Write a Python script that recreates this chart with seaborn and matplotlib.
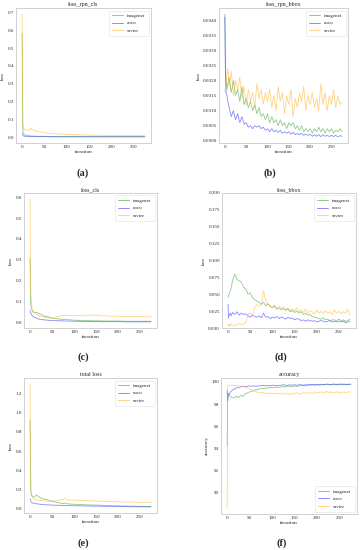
import matplotlib
matplotlib.use("Agg")
import matplotlib.pyplot as plt
import pandas as pd
import seaborn as sns
from matplotlib.ticker import MultipleLocator, FormatStrFormatter

# ---------------- data ----------------
MODELS = ["imagenet", "coco", "savier"]

ITER = [0, 1, 2, 3, 5, 7, 10, 15, 20, 25,
        30, 35, 40, 45, 50, 55, 60, 65, 70, 75,
        80, 85, 90, 95, 100, 105, 110, 115, 120, 125,
        130, 135, 140, 145, 150, 155, 160, 165, 170, 175,
        180, 185, 190, 195, 200, 205, 210, 215, 220, 225,
        230, 235, 240, 245, 250, 255, 260, 265, 270, 275]

# (a) loss_rpn_cls
a_imagenet = [0.58, 0.10, 0.03, 0.02, 0.015, 0.012, 0.010, 0.008, 0.007, 0.006,
              0.006, 0.005, 0.005, 0.005, 0.005, 0.005, 0.004, 0.004, 0.004, 0.004,
              0.004, 0.004, 0.004, 0.004, 0.004, 0.004, 0.004, 0.004, 0.004, 0.004,
              0.004, 0.003, 0.003, 0.003, 0.003, 0.003, 0.003, 0.003, 0.003, 0.003,
              0.003, 0.003, 0.003, 0.003, 0.003, 0.003, 0.003, 0.003, 0.003, 0.003,
              0.003, 0.003, 0.003, 0.003, 0.003, 0.003, 0.003, 0.003, 0.003, 0.003]
a_coco = [0.020, 0.015, 0.010, 0.008, 0.006, 0.005, 0.004, 0.004, 0.003, 0.003,
          0.003, 0.003, 0.003, 0.003, 0.003, 0.003, 0.003, 0.002, 0.002, 0.002,
          0.002, 0.002, 0.002, 0.002, 0.002, 0.002, 0.002, 0.002, 0.002, 0.002,
          0.002, 0.002, 0.002, 0.002, 0.002, 0.002, 0.002, 0.002, 0.002, 0.002,
          0.002, 0.002, 0.002, 0.002, 0.002, 0.002, 0.002, 0.002, 0.002, 0.002,
          0.002, 0.002, 0.002, 0.002, 0.002, 0.002, 0.002, 0.002, 0.002, 0.002]
a_savier = [0.69, 0.25, 0.06, 0.05, 0.045, 0.042, 0.040, 0.038, 0.050, 0.040,
            0.035, 0.032, 0.030, 0.028, 0.026, 0.024, 0.022, 0.021, 0.020, 0.019,
            0.018, 0.018, 0.017, 0.016, 0.016, 0.015, 0.015, 0.014, 0.014, 0.014,
            0.013, 0.013, 0.013, 0.012, 0.012, 0.012, 0.012, 0.011, 0.011, 0.011,
            0.011, 0.011, 0.010, 0.010, 0.010, 0.010, 0.010, 0.010, 0.010, 0.010,
            0.009, 0.010, 0.009, 0.009, 0.010, 0.009, 0.009, 0.009, 0.009, 0.009]

# (b) loss_rpn_bbox
b_imagenet = [0.0042, 0.0030, 0.0022, 0.0020, 0.0017, 0.0019, 0.0021, 0.0016, 0.0020, 0.0015,
              0.0017, 0.0013, 0.0018, 0.0012, 0.0014, 0.0011, 0.0013, 0.0010, 0.0012, 0.0009,
              0.0011, 0.0008, 0.0009, 0.0007, 0.0009, 0.0006, 0.0008, 0.0006, 0.0007, 0.0005,
              0.0007, 0.0005, 0.0006, 0.0004, 0.0006, 0.0005, 0.0006, 0.0004, 0.0005, 0.00035,
              0.0005, 0.0003, 0.0004, 0.0003, 0.0004, 0.00025, 0.0004, 0.0003, 0.00045, 0.0003,
              0.0004, 0.00025, 0.0004, 0.0003, 0.0004, 0.00025, 0.00035, 0.0003, 0.0004, 0.0003]
b_coco = [0.0041, 0.0025, 0.0018, 0.0016, 0.0015, 0.0013, 0.0011, 0.0008, 0.0010, 0.0007,
          0.0009, 0.0006, 0.0008, 0.00055, 0.0006, 0.00045, 0.0005, 0.0004, 0.0005, 0.00045,
          0.0005, 0.0004, 0.00045, 0.00035, 0.0004, 0.0003, 0.0004, 0.0003, 0.00035, 0.00028,
          0.00035, 0.00025, 0.0003, 0.00025, 0.0003, 0.00022, 0.00028, 0.0002, 0.00025, 0.0002,
          0.00025, 0.00018, 0.00022, 0.00018, 0.00022, 0.00015, 0.0002, 0.00015, 0.0002, 0.00014,
          0.0002, 0.00015, 0.00018, 0.00014, 0.00018, 0.00014, 0.00018, 0.00013, 0.00017, 0.00015]
b_savier = [0.0017, 0.0016, 0.0018, 0.0020, 0.0022, 0.0024, 0.0018, 0.0023, 0.0015, 0.0020,
            0.0017, 0.0021, 0.0014, 0.0018, 0.0012, 0.0017, 0.0013, 0.0016, 0.0011, 0.0019,
            0.0014, 0.0017, 0.0012, 0.0016, 0.0013, 0.0017, 0.0011, 0.0015, 0.0010, 0.0018,
            0.0013, 0.0016, 0.0009, 0.0015, 0.0012, 0.0017, 0.0008, 0.0014, 0.0011, 0.0016,
            0.0013, 0.0018, 0.0010, 0.0015, 0.0012, 0.0016, 0.0011, 0.0014, 0.0010, 0.0019,
            0.0012, 0.0016, 0.0010, 0.0015, 0.0012, 0.0017, 0.0011, 0.0015, 0.0012, 0.0013]

# (c) loss_cls
c_imagenet = [0.31, 0.12, 0.08, 0.07, 0.06, 0.055, 0.050, 0.050, 0.045, 0.040,
              0.035, 0.030, 0.030, 0.027, 0.024, 0.022, 0.020, 0.019, 0.018, 0.017,
              0.016, 0.015, 0.015, 0.014, 0.013, 0.013, 0.012, 0.012, 0.012, 0.011,
              0.011, 0.011, 0.010, 0.010, 0.010, 0.010, 0.010, 0.009, 0.009, 0.009,
              0.009, 0.009, 0.009, 0.009, 0.009, 0.009, 0.008, 0.008, 0.008, 0.008,
              0.008, 0.008, 0.008, 0.008, 0.008, 0.008, 0.008, 0.008, 0.008, 0.008]
c_coco = [0.060, 0.050, 0.045, 0.040, 0.035, 0.030, 0.028, 0.022, 0.018, 0.016,
          0.015, 0.014, 0.013, 0.012, 0.012, 0.011, 0.011, 0.010, 0.010, 0.010,
          0.009, 0.009, 0.009, 0.008, 0.008, 0.008, 0.008, 0.008, 0.007, 0.007,
          0.007, 0.007, 0.007, 0.007, 0.007, 0.006, 0.006, 0.006, 0.006, 0.006,
          0.006, 0.006, 0.006, 0.006, 0.006, 0.006, 0.006, 0.005, 0.005, 0.005,
          0.005, 0.005, 0.005, 0.005, 0.005, 0.005, 0.005, 0.005, 0.005, 0.005]
c_savier = [0.59, 0.20, 0.14, 0.10, 0.06, 0.05, 0.045, 0.040, 0.035, 0.030,
            0.030, 0.025, 0.025, 0.022, 0.020, 0.022, 0.030, 0.032, 0.035, 0.033,
            0.037, 0.034, 0.036, 0.033, 0.035, 0.034, 0.036, 0.033, 0.035, 0.037,
            0.034, 0.036, 0.038, 0.035, 0.040, 0.034, 0.036, 0.033, 0.035, 0.032,
            0.034, 0.031, 0.033, 0.030, 0.032, 0.031, 0.030, 0.032, 0.030, 0.031,
            0.029, 0.031, 0.030, 0.029, 0.031, 0.030, 0.029, 0.030, 0.029, 0.030]

# (d) loss_bbox
d_imagenet = [0.045, 0.048, 0.050, 0.052, 0.055, 0.060, 0.070, 0.080, 0.072, 0.070,
              0.068, 0.060, 0.058, 0.050, 0.052, 0.045, 0.042, 0.040, 0.038, 0.035,
              0.038, 0.033, 0.036, 0.032, 0.030, 0.033, 0.028, 0.030, 0.027, 0.029,
              0.026, 0.028, 0.024, 0.026, 0.023, 0.025, 0.022, 0.024, 0.020, 0.022,
              0.019, 0.020, 0.017, 0.016, 0.015, 0.014, 0.013, 0.015, 0.012, 0.013,
              0.011, 0.012, 0.012, 0.011, 0.013, 0.011, 0.012, 0.010, 0.011, 0.013]
d_coco = [0.035, 0.015, 0.018, 0.020, 0.022, 0.018, 0.023, 0.020, 0.024, 0.019,
          0.022, 0.020, 0.021, 0.018, 0.016, 0.019, 0.017, 0.016, 0.018, 0.015,
          0.022, 0.016, 0.017, 0.014, 0.016, 0.015, 0.017, 0.014, 0.016, 0.015,
          0.013, 0.016, 0.014, 0.015, 0.012, 0.014, 0.013, 0.011, 0.012, 0.010,
          0.012, 0.011, 0.010, 0.011, 0.009, 0.010, 0.011, 0.010, 0.009, 0.010,
          0.011, 0.009, 0.010, 0.009, 0.010, 0.009, 0.010, 0.008, 0.009, 0.010]
d_savier = [0.004, 0.006, 0.003, 0.005, 0.004, 0.006, 0.003, 0.005, 0.004, 0.007,
            0.005, 0.006, 0.008, 0.020, 0.022, 0.018, 0.030, 0.035, 0.032, 0.036,
            0.055, 0.040, 0.035, 0.032, 0.030, 0.034, 0.028, 0.032, 0.029, 0.031,
            0.027, 0.030, 0.026, 0.028, 0.025, 0.030, 0.024, 0.027, 0.023, 0.028,
            0.022, 0.026, 0.024, 0.020, 0.027, 0.022, 0.025, 0.021, 0.026, 0.022,
            0.024, 0.020, 0.027, 0.022, 0.025, 0.021, 0.024, 0.022, 0.028, 0.020]

# (e) total loss
e_imagenet = [0.92, 0.35, 0.16, 0.14, 0.13, 0.12, 0.12, 0.14, 0.12, 0.11,
              0.100, 0.095, 0.090, 0.080, 0.075, 0.070, 0.065, 0.060, 0.055, 0.050,
              0.055, 0.050, 0.045, 0.045, 0.043, 0.042, 0.040, 0.040, 0.039, 0.038,
              0.037, 0.036, 0.036, 0.035, 0.034, 0.034, 0.033, 0.032, 0.031, 0.030,
              0.030, 0.029, 0.028, 0.027, 0.026, 0.026, 0.025, 0.025, 0.024, 0.024,
              0.023, 0.023, 0.022, 0.022, 0.022, 0.021, 0.021, 0.020, 0.020, 0.020]
e_coco = [0.100, 0.090, 0.075, 0.065, 0.060, 0.055, 0.050, 0.048, 0.045, 0.042,
          0.040, 0.038, 0.037, 0.036, 0.035, 0.034, 0.033, 0.032, 0.032, 0.031,
          0.030, 0.030, 0.029, 0.029, 0.028, 0.028, 0.027, 0.027, 0.026, 0.026,
          0.025, 0.025, 0.025, 0.024, 0.024, 0.023, 0.023, 0.022, 0.022, 0.022,
          0.021, 0.021, 0.020, 0.020, 0.020, 0.020, 0.019, 0.019, 0.019, 0.018,
          0.018, 0.018, 0.018, 0.017, 0.017, 0.017, 0.017, 0.016, 0.016, 0.016]
e_savier = [1.30, 0.60, 0.20, 0.15, 0.12, 0.10, 0.095, 0.090, 0.085, 0.082,
            0.080, 0.078, 0.080, 0.075, 0.078, 0.073, 0.080, 0.085, 0.088, 0.090,
            0.105, 0.090, 0.088, 0.085, 0.087, 0.083, 0.085, 0.080, 0.083, 0.080,
            0.082, 0.078, 0.080, 0.077, 0.078, 0.075, 0.077, 0.074, 0.075, 0.072,
            0.074, 0.070, 0.072, 0.069, 0.070, 0.068, 0.070, 0.066, 0.068, 0.065,
            0.067, 0.064, 0.066, 0.063, 0.065, 0.062, 0.064, 0.061, 0.063, 0.062]

# (f) accuracy
f_imagenet = [94.2, 98.8, 99.0, 98.9, 98.8, 98.7, 98.6, 98.55, 98.7, 98.6,
              98.8, 98.7, 98.95, 99.0, 99.1, 99.15, 99.25, 99.3, 99.35, 99.4,
              99.4, 99.45, 99.45, 99.5, 99.5, 99.5, 99.55, 99.5, 99.55, 99.6,
              99.55, 99.6, 99.6, 99.6, 99.65, 99.6, 99.65, 99.65, 99.7, 99.65,
              99.7, 99.7, 99.75, 99.7, 99.75, 99.7, 99.75, 99.75, 99.8, 99.75,
              99.75, 99.8, 99.75, 99.8, 99.8, 99.75, 99.8, 99.8, 99.75, 99.8]
f_coco = [99.2, 98.3, 98.6, 98.8, 98.9, 99.1, 99.2, 99.35, 99.45, 99.5,
          99.55, 99.6, 99.6, 99.6, 99.65, 99.6, 99.65, 99.6, 99.65, 99.65,
          99.7, 99.65, 99.7, 99.65, 99.7, 99.7, 99.65, 99.7, 99.7, 99.75,
          99.7, 99.7, 99.75, 99.7, 99.75, 99.7, 99.75, 99.75, 99.7, 99.75,
          99.75, 99.8, 99.75, 99.75, 99.8, 99.75, 99.8, 99.75, 99.8, 99.8,
          99.75, 99.8, 99.8, 99.75, 99.8, 99.8, 99.8, 99.75, 99.8, 99.8]
f_savier = [88.6, 99.6, 99.7, 99.7, 99.7, 99.7, 99.7, 99.7, 99.65, 99.7,
            99.6, 99.65, 99.5, 99.45, 99.35, 99.3, 99.2, 99.1, 99.05, 99.0,
            99.05, 98.95, 99.0, 98.95, 99.0, 98.9, 99.0, 98.95, 98.9, 99.0,
            98.9, 98.95, 98.85, 99.0, 98.9, 99.05, 98.9, 98.95, 99.1, 98.95,
            99.0, 99.05, 98.95, 99.1, 99.0, 99.05, 99.1, 99.0, 99.15, 99.05,
            99.1, 99.0, 99.05, 99.1, 99.0, 99.05, 99.1, 99.05, 99.1, 99.1]

TITLES = ["loss_rpn_cls", "loss_rpn_bbox", "loss_cls", "loss_bbox", "total loss", "accuracy"]
CAPTIONS = ["(a)", "(b)", "(c)", "(d)", "(e)", "(f)"]
YLABELS = ["loss", "loss", "loss", "loss", "loss", "accuracy"]
SERIES = [
    (a_imagenet, a_coco, a_savier),
    (b_imagenet, b_coco, b_savier),
    (c_imagenet, c_coco, c_savier),
    (d_imagenet, d_coco, d_savier),
    (e_imagenet, e_coco, e_savier),
    (f_imagenet, f_coco, f_savier),
]

# ---------------- style / layout ----------------
PALETTE = {"imagenet": "#2ca02c", "coco": "#2a2aff", "savier": "#ffb020"}
W, H = 362, 550
# axes boxes in pixels: left, top, right, bottom
BOXES = [
    (16, 8, 151, 143), (219, 8, 348, 143),
    (24, 193, 157, 328), (222, 193, 356, 328),
    (24, 378, 157, 513), (221, 378, 357, 514),
]
CAP_POS = [(83, 173), (270, 173), (83, 357), (281, 357), (83, 543), (282, 543)]
YSTEP = [0.1, 0.0005, 0.1, 0.025, 0.2, 2]
YFMT = ["%.1f", "%.4f", "%.1f", "%.3f", "%.1f", "%d"]
LEG_LOC = ["upper right"] * 5 + ["lower right"]

sns.set_style("white", {"axes.edgecolor": "0.82"})
plt.rcParams["font.family"] = ["Liberation Serif", "DejaVu Serif"]

fig = plt.figure(figsize=(W / 100, H / 100), dpi=100)

for i in range(6):
    l, t, r, b = BOXES[i]
    ax = fig.add_axes([l / W, 1 - b / H, (r - l) / W, (b - t) / H])
    imgn, coco, sav = SERIES[i]
    df = pd.DataFrame({
        "iteration": ITER * 3,
        "value": list(imgn) + list(coco) + list(sav),
        "model": ["imagenet"] * len(imgn) + ["coco"] * len(coco) + ["savier"] * len(sav),
    })
    sns.lineplot(data=df, x="iteration", y="value", hue="model", hue_order=MODELS,
                 palette=PALETTE, estimator=None, linewidth=0.6, alpha=0.55, ax=ax)
    if i == 3:
        ax.set_ylim(0, 0.2)
    ax.xaxis.set_major_locator(MultipleLocator(50))
    ax.yaxis.set_major_locator(MultipleLocator(YSTEP[i]))
    ax.yaxis.set_major_formatter(FormatStrFormatter(YFMT[i]))
    ax.tick_params(labelsize=3.6, pad=1.5, length=0)
    ax.set_xlabel("iteration", fontsize=3.8, labelpad=1)
    ax.set_ylabel(YLABELS[i], fontsize=3.8, labelpad=1.5)
    ax.set_title(TITLES[i], fontsize=4.3, pad=1.5)
    for s in ax.spines.values():
        s.set_linewidth(0.7)
    leg = ax.legend(loc=LEG_LOC[i], fontsize=3.6, frameon=True, handlelength=2.2,
                    borderpad=0.6, labelspacing=0.6, handletextpad=0.8)
    leg.get_frame().set_linewidth(0.4)
    leg.get_frame().set_edgecolor("0.85")
    for ln in leg.get_lines():
        ln.set_linewidth(0.7)
    cx, cy = CAP_POS[i]
    fig.text(cx / W, 1 - cy / H, CAPTIONS[i], ha="center", va="center",
             fontsize=7.5, fontweight="bold")

fig.savefig("out.png", dpi=100)
